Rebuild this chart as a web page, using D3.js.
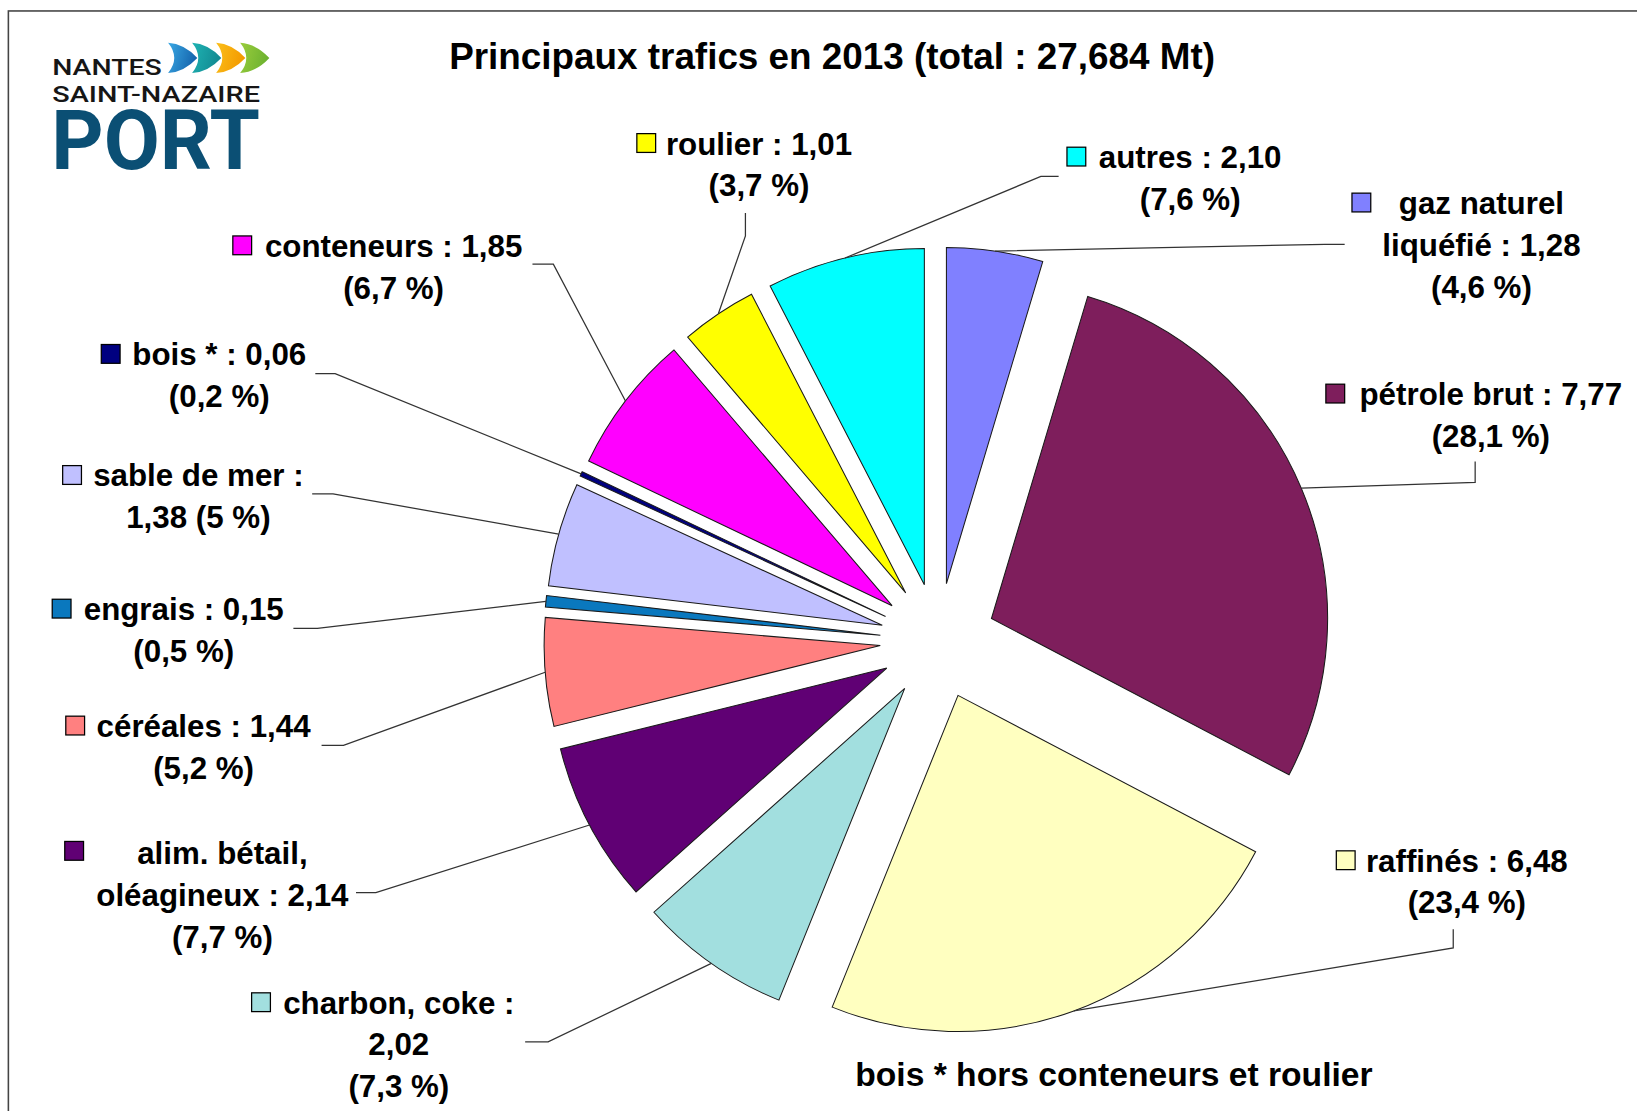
<!DOCTYPE html>
<html><head><meta charset="utf-8">
<script src="https://cdn.jsdelivr.net/npm/d3@7/dist/d3.min.js"></script>
<style>body{margin:0;background:#fff;} svg{display:block;}</style>
</head><body>
<svg id="chart" width="1637" height="1111" viewBox="0 0 1568 1064.2"></svg>
<script>
// ---------- DATA ----------
const titleText = "Principaux trafics en 2013 (total : 27,684 Mt)";
const footnoteText = "bois * hors conteneurs et roulier";
const categories = ["gaz naturel liquéfié", "pétrole brut", "raffinés", "charbon, coke",
  "alim. bétail, oléagineux", "céréales", "engrais", "sable de mer", "bois *",
  "conteneurs", "roulier", "autres"];
const values = [1.28, 7.77, 6.48, 2.02, 2.14, 1.44, 0.15, 1.38, 0.06, 1.85, 1.01, 2.10];
const valueTexts = ["1,28", "7,77", "6,48", "2,02", "2,14", "1,44", "0,15", "1,38", "0,06", "1,85", "1,01", "2,10"];
const percentTexts = ["4,6 %", "28,1 %", "23,4 %", "7,3 %", "7,7 %", "5,2 %", "0,5 %", "5 %", "0,2 %", "6,7 %", "3,7 %", "7,6 %"];
const labelLines = [
  ["gaz naturel", "liquéfié : 1,28", "(4,6 %)"],
  ["pétrole brut : 7,77", "(28,1 %)"],
  ["raffinés : 6,48", "(23,4 %)"],
  ["charbon, coke :", "2,02", "(7,3 %)"],
  ["alim. bétail,", "oléagineux : 2,14", "(7,7 %)"],
  ["céréales : 1,44", "(5,2 %)"],
  ["engrais : 0,15", "(0,5 %)"],
  ["sable de mer :", "1,38 (5 %)"],
  ["bois * : 0,06", "(0,2 %)"],
  ["conteneurs : 1,85", "(6,7 %)"],
  ["roulier : 1,01", "(3,7 %)"],
  ["autres : 2,10", "(7,6 %)"]
];

// ---------- STYLE / LAYOUT ----------
const colors = ["#8080FF", "#7E1E5C", "#FFFFC0", "#A2DFDF", "#600074", "#FF8080",
  "#0A78BE", "#C0C0FF", "#000080", "#FF00FF", "#FFFF00", "#00FFFF"];
const center = {x: 898.5, y: 614};
const radius = 322;
const explode = 55.5;
// label layout: text centre x, first baseline, key position, leader elbow & end
const labelLayout = [
  {cx: 1419, y: 205, kx: 1295, ky: 185, elbow: [1269, 234], end: [1288, 234]},
  {cx: 1428, y: 388, kx: 1270, ky: 368, elbow: [1413, 462], end: [1413, 442]},
  {cx: 1405, y: 835, kx: 1280, ky: 815, elbow: [1392, 908], end: [1392, 890]},
  {cx: 382, y: 971, kx: 241, ky: 951, elbow: [525, 998], end: [503, 998]},
  {cx: 213, y: 828, kx: 62, ky: 806, elbow: [360, 855], end: [341, 855]},
  {cx: 195, y: 706, kx: 63, ky: 686, elbow: [329, 714], end: [308, 714]},
  {cx: 176, y: 594, kx: 50, ky: 574, elbow: [304, 602], end: [281, 602]},
  {cx: 190, y: 466, kx: 60, ky: 446, elbow: [319, 473], end: [299, 473]},
  {cx: 210, y: 350, kx: 97, ky: 330, elbow: [321, 358], end: [302, 358]},
  {cx: 377, y: 246, kx: 223, ky: 226, elbow: [530, 253], end: [510, 253]},
  {cx: 727, y: 148, kx: 610, ky: 128, elbow: [714, 226], end: [714, 204]},
  {cx: 1140, y: 161, kx: 1022, ky: 141, elbow: [997, 169], end: [1014, 169]}
];
const lineGap = 40;
const FONT = "'Liberation Sans', Arial, sans-serif";

const svg = d3.select("#chart");

// frame
svg.append("rect").attr("x", 8).attr("y", 10.5).attr("width", 1700).attr("height", 1200)
  .attr("fill", "none").attr("stroke", "#444").attr("stroke-width", 1.5);

// ---------- LOGO ----------
const logo = svg.append("g");
const defs = svg.append("defs");
const chevColors = [["#3aa8e4", "#1565ad"], ["#1fb3b3", "#128a92"], ["#fbbf1a", "#f39a00"], ["#9acd3c", "#6db230"]];
chevColors.forEach((c, i) => {
  const g = defs.append("linearGradient").attr("id", "cg" + i).attr("x1", 0).attr("x2", 1).attr("y1", 0).attr("y2", 0.3);
  g.append("stop").attr("offset", 0).attr("stop-color", c[0]);
  g.append("stop").attr("offset", 1).attr("stop-color", c[1]);
});
const chevX = [161, 184, 207, 230];
chevX.forEach((x0, i) => {
  const t = 41, b = 70, m = (t + b) / 2, w = 28;
  logo.append("path")
    .attr("d", `M${x0},${t} Q${x0 + w * 0.55},${t + 1} ${x0 + w},${m} Q${x0 + w * 0.55},${b - 1} ${x0},${b} Q${x0 + w * 0.42},${m} ${x0},${t} Z`)
    .attr("fill", `url(#cg${i})`);
});
logo.append("text").attr("x", 50).attr("y", 72).text("NANTES")
  .attr("font-family", "Roboto, sans-serif").attr("font-weight", 500).attr("font-size", 22)
  .attr("textLength", 105).attr("lengthAdjust", "spacingAndGlyphs").attr("fill", "#161616");
logo.append("text").attr("x", 50).attr("y", 97.5).text("SAINT-NAZAIRE")
  .attr("font-family", "Roboto, sans-serif").attr("font-weight", 500).attr("font-size", 22)
  .attr("textLength", 199).attr("lengthAdjust", "spacingAndGlyphs").attr("fill", "#161616");
logo.append("text").attr("x", 49).attr("y", 162).text("PORT")
  .attr("font-family", "Roboto, sans-serif").attr("font-weight", 700).attr("font-size", 79)
  .attr("textLength", 200).attr("lengthAdjust", "spacingAndGlyphs").attr("fill", "#0b4f74");

// ---------- TITLE ----------
svg.append("text").attr("x", 797).attr("y", 66).attr("text-anchor", "middle")
  .attr("font-family", FONT).attr("font-weight", "bold").attr("font-size", 35.3).attr("fill", "#000")
  .text(titleText);

// ---------- PIE ----------
const pie = d3.pie().sort(null).value(d => d).startAngle(0).endAngle(2 * Math.PI);
const arcs = pie(values);
const arcGen = d3.arc().innerRadius(0).outerRadius(radius);
const dirOf = a => { const mid = (a.startAngle + a.endAngle) / 2; return [Math.sin(mid), -Math.cos(mid)]; };

const pieG = svg.append("g").attr("transform", `translate(${center.x},${center.y})`);
pieG.selectAll("path.slice").data(arcs).join("path").attr("class", "slice")
  .attr("transform", d => { const [dx, dy] = dirOf(d); return `translate(${dx * explode},${dy * explode})`; })
  .attr("d", arcGen)
  .attr("fill", (d, i) => colors[i])
  .attr("stroke", "#1a1a1a").attr("stroke-width", 1).attr("stroke-linejoin", "miter");

// ---------- LEADERS ----------
const leaderG = svg.append("g");
arcs.forEach((a, i) => {
  const [dx, dy] = dirOf(a);
  const p = [center.x + dx * (explode + radius), center.y + dy * (explode + radius)];
  const L = labelLayout[i];
  leaderG.append("polyline")
    .attr("points", [p, L.elbow, L.end].map(q => q.join(",")).join(" "))
    .attr("fill", "none").attr("stroke", "#333").attr("stroke-width", 1.2);
});

// ---------- LABELS ----------
const labG = svg.append("g").attr("font-family", FONT).attr("font-weight", "bold").attr("font-size", 30).attr("fill", "#000");
labelLines.forEach((lines, i) => {
  const L = labelLayout[i];
  lines.forEach((t, j) => {
    labG.append("text").attr("x", L.cx).attr("y", L.y + j * lineGap).attr("text-anchor", "middle").text(t);
  });
  svg.append("rect").attr("x", L.kx).attr("y", L.ky).attr("width", 18).attr("height", 18)
    .attr("fill", colors[i]).attr("stroke", "#000").attr("stroke-width", 1.2);
});

// ---------- FOOTNOTE ----------
svg.append("text").attr("x", 1067).attr("y", 1040).attr("text-anchor", "middle")
  .attr("font-family", FONT).attr("font-weight", "bold").attr("font-size", 32.2).attr("fill", "#000")
  .text(footnoteText);
</script>
</body></html>
